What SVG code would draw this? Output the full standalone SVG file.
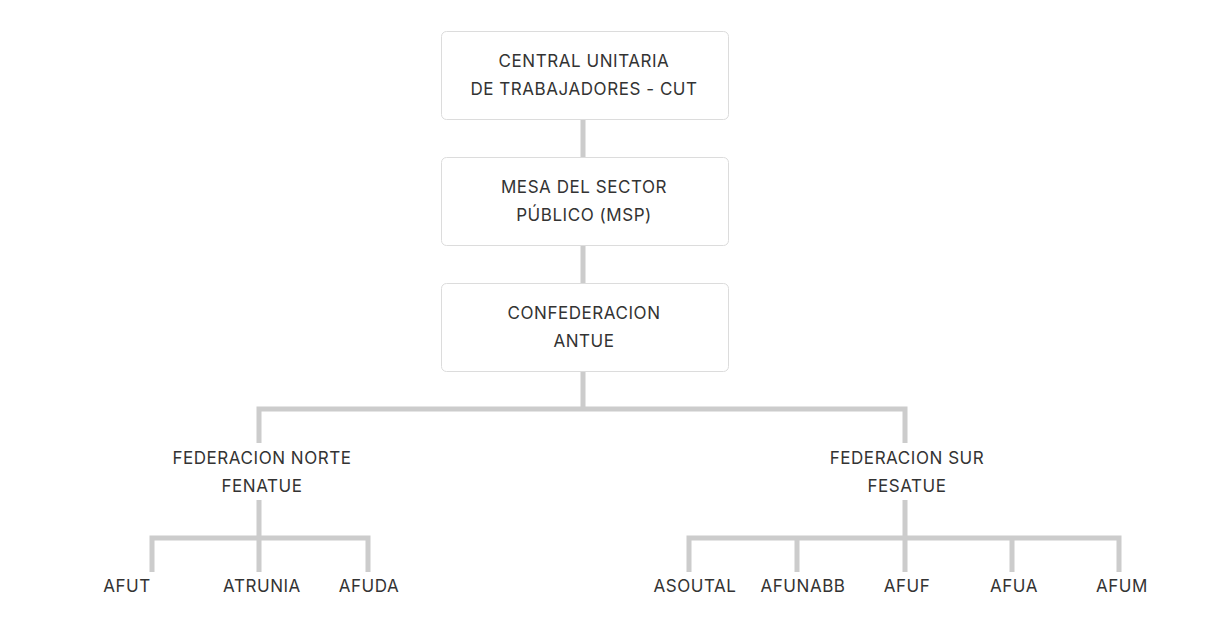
<svg xmlns="http://www.w3.org/2000/svg" width="1219" height="624" viewBox="0 0 1219 624">
<style>
.box{fill:#fff;stroke:#dcdcdc;stroke-width:1}
.t{font-family:Inter,"Liberation Sans",sans-serif;font-size:17px;letter-spacing:0.55px;fill:#333;text-anchor:middle}
.c{stroke:#cccccc;stroke-width:5;fill:none}
</style>
<rect width="1219" height="624" fill="#fff"/>
<g id="connectors">
<path class="c" d="M583 119V157M583 245V283M583 371V409"/>
<path class="c" d="M256.5 409H907.5M259 409V443M905 409V443"/>
<path class="c" d="M259 500V538M149.5 538H370.5M152 538V572M259 538V572M368 538V572"/>
<path class="c" d="M905 500V538M686.5 538H1121.5M689 538V572M797 538V572M905 538V572M1012 538V572M1119 538V572"/>
</g>
<g id="cut"><rect class="box" x="441.5" y="31.5" width="287" height="88" rx="5"/><text class="t" x="584" y="67">CENTRAL UNITARIA</text><text class="t" x="584" y="95">DE TRABAJADORES - CUT</text></g>
<g id="msp"><rect class="box" x="441.5" y="157.5" width="287" height="88" rx="5"/><text class="t" x="584" y="193">MESA DEL SECTOR</text><text class="t" x="584" y="221">PÚBLICO (MSP)</text></g>
<g id="antue"><rect class="box" x="441.5" y="283.5" width="287" height="88" rx="5"/><text class="t" x="584" y="319">CONFEDERACION</text><text class="t" x="584" y="347">ANTUE</text></g>
<g id="fenatue"><text class="t" x="262" y="464">FEDERACION NORTE</text><text class="t" x="262" y="492">FENATUE</text></g>
<g id="fesatue"><text class="t" x="907" y="464">FEDERACION SUR</text><text class="t" x="907" y="492">FESATUE</text></g>
<g id="afut"><text class="t" x="127" y="592">AFUT</text></g>
<g id="atrunia"><text class="t" x="262" y="592">ATRUNIA</text></g>
<g id="afuda"><text class="t" x="369" y="592">AFUDA</text></g>
<g id="asoutal"><text class="t" x="695" y="592">ASOUTAL</text></g>
<g id="afunabb"><text class="t" x="803" y="592">AFUNABB</text></g>
<g id="afuf"><text class="t" x="907" y="592">AFUF</text></g>
<g id="afua"><text class="t" x="1014" y="592">AFUA</text></g>
<g id="afum"><text class="t" x="1122" y="592">AFUM</text></g>
</svg>
